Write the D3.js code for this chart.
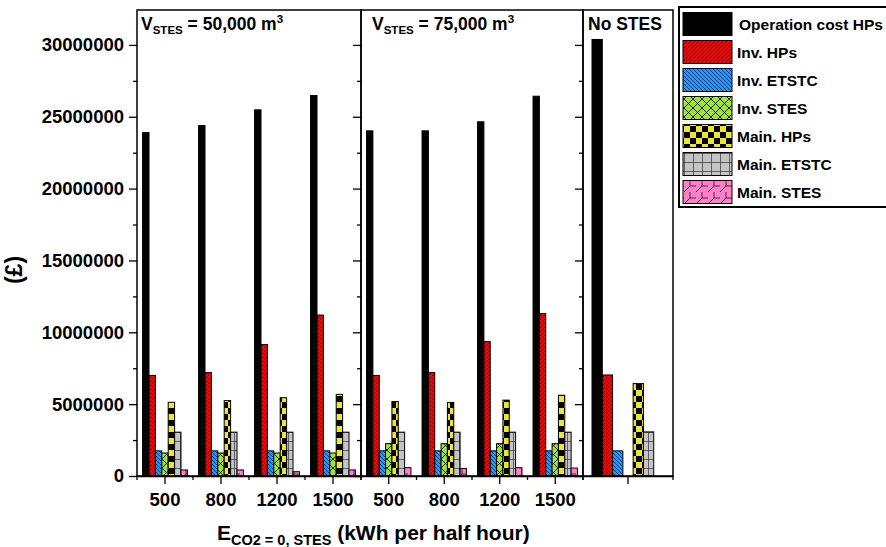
<!DOCTYPE html>
<html>
<head>
<meta charset="utf-8">
<script src="https://cdn.jsdelivr.net/npm/d3@7"></script>
<style>
  body { margin: 0; background: #fff; }
  text { font-family: "Liberation Sans", Arial, sans-serif; font-weight: bold; fill: #000; }
</style>
</head>
<body>
<svg id="chart" width="886" height="547"></svg>
<script>
// ---- data ----
const categories = ['500', '800', '1200', '1500'];
const seriesNames = ['Operation cost HPs', 'Inv. HPs', 'Inv. ETSTC', 'Inv. STES', 'Main. HPs', 'Main. ETSTC', 'Main. STES'];

// V_STES = 50,000 m3
const opCost50    = [23.9e6, 24.39e6, 25.48e6, 26.48e6];
const invHP50     = [7.0e6, 7.2e6, 9.15e6, 11.2e6];
const invETSTC50  = [1.75e6, 1.75e6, 1.75e6, 1.75e6];
const invSTES50   = [1.6e6, 1.6e6, 1.6e6, 1.6e6];
const mainHP50    = [5.13e6, 5.25e6, 5.45e6, 5.68e6];
const mainETSTC50 = [3.05e6, 3.05e6, 3.05e6, 3.05e6];
const mainSTES50  = [0.42e6, 0.42e6, 0.3e6, 0.42e6];

// V_STES = 75,000 m3
const opCost75    = [24.02e6, 24.02e6, 24.65e6, 26.43e6];
const invHP75     = [7.0e6, 7.2e6, 9.35e6, 11.3e6];
const invETSTC75  = [1.75e6, 1.75e6, 1.75e6, 1.75e6];
const invSTES75   = [2.25e6, 2.25e6, 2.25e6, 2.25e6];
const mainHP75    = [5.18e6, 5.12e6, 5.28e6, 5.62e6];
const mainETSTC75 = [3.05e6, 3.05e6, 3.05e6, 3.05e6];
const mainSTES75  = [0.58e6, 0.52e6, 0.58e6, 0.55e6];

// No STES (one group, same series order)
const noStes = [30.38e6, 7.03e6, 1.75e6, 0, 6.43e6, 3.07e6, 0];

const yMajor = d3.range(0, 30000001, 5000000);
const yMinor = d3.range(2500000, 32500000, 5000000);

// ---- layout ----
const svg = d3.select('#chart');
const plotTop = 10, plotBot = 476;
const y = d3.scaleLinear().domain([0, 32.43e6]).range([plotBot, plotTop]);

const panels = [
  { x0: 137, x1: 361, cats: categories, rows: [opCost50, invHP50, invETSTC50, invSTES50, mainHP50, mainETSTC50, mainSTES50], title: '50,000', tx: 141, rightTicks: true },
  { x0: 361, x1: 583, cats: categories, rows: [opCost75, invHP75, invETSTC75, invSTES75, mainHP75, mainETSTC75, mainSTES75], title: '75,000', tx: 372, rightTicks: true },
  { x0: 583, x1: 673, cats: [''], rows: noStes.map(v => [v]), title: null, tx: 588, rightTicks: false }
];

// ---- patterns ----
const defs = svg.append('defs');
function pat(id, w, h, bg) {
  const p = defs.append('pattern').attr('id', id).attr('patternUnits', 'userSpaceOnUse')
    .attr('width', w).attr('height', h);
  p.append('rect').attr('width', w).attr('height', h).attr('fill', bg);
  return p;
}
pat('pRed', 4, 4, '#ff0000').append('path')
  .attr('d', 'M-1,1 L1,-1 M0,4 L4,0 M3,5 L5,3').attr('stroke', '#000').attr('stroke-width', 0.7);
pat('pBlue', 4, 4, '#1e9bff').append('path')
  .attr('d', 'M-1,3 L1,5 M0,0 L4,4 M3,-1 L5,1').attr('stroke', '#000').attr('stroke-width', 0.7);
pat('pGreen', 9, 9, '#a0e040').append('path')
  .attr('d', 'M0,0 L9,9 M9,0 L0,9').attr('stroke', '#000').attr('stroke-width', 0.8);
const pY = pat('pYellow', 12, 12, '#ece43c');
pY.append('rect').attr('width', 6).attr('height', 6).attr('fill', '#000');
pY.append('rect').attr('x', 6).attr('y', 6).attr('width', 6).attr('height', 6).attr('fill', '#000');
pat('pGray', 9, 9, '#c4c4c4').append('path')
  .attr('d', 'M0,0.5 H9 M0.5,0 V9').attr('stroke', '#333').attr('stroke-width', 0.7);
pat('pPink', 12, 12, '#ff80c8').append('path')
  .attr('d', 'M0,12 L6,6 L12,6 M6,6 L6,0').attr('stroke', '#000').attr('stroke-width', 0.7).attr('fill', 'none');

const fills = ['#000', 'url(#pRed)', 'url(#pBlue)', 'url(#pGreen)', 'url(#pYellow)', 'url(#pGray)', 'url(#pPink)'];

// ---- panels ----
panels.forEach(p => {
  const xb = d3.scaleBand().domain(p.cats).range([p.x0, p.x1]).padding(0);
  const bw = xb.bandwidth();
  const xs = d3.scaleBand().domain(d3.range(seriesNames.length)).range([0.1 * bw, 0.9 * bw]).padding(0);

  const g = svg.append('g');
  p.cats.forEach((c, ci) => {
    p.rows.forEach((row, si) => {
      const v = row[ci];
      if (!v) return;
      g.append('rect')
        .attr('x', xb(c) + xs(si))
        .attr('y', y(v))
        .attr('width', xs.bandwidth())
        .attr('height', y(0) - y(v))
        .attr('fill', fills[si])
        .attr('stroke', '#000')
        .attr('stroke-width', 1);
    });
  });

  // frame
  svg.append('rect').attr('x', p.x0).attr('y', plotTop).attr('width', p.x1 - p.x0).attr('height', plotBot - plotTop)
    .attr('fill', 'none').attr('stroke', '#000').attr('stroke-width', 1.5);

  // bottom axis
  const ax = svg.append('g').attr('transform', `translate(0,${plotBot})`)
    .call(d3.axisBottom(xb).tickSize(8).tickSizeOuter(0).tickPadding(9));
  ax.select('.domain').attr('stroke-width', 1.5);
  ax.selectAll('.tick line').attr('stroke-width', 1.3);
  ax.selectAll('text').style('font-size', '18.5px');
  // minor ticks at band edges
  const edges = p.cats.map(c => xb(c)).concat([xb.range()[1]]);
  svg.append('g').selectAll('line').data(edges).join('line')
    .attr('x1', d => d).attr('x2', d => d).attr('y1', plotBot).attr('y2', plotBot + 4)
    .attr('stroke', '#000').attr('stroke-width', 1.3);

  // ticks on the right edge, pointing into the panel
  if (p.rightTicks) {
    const r1 = svg.append('g').attr('transform', `translate(${p.x1},0)`)
      .call(d3.axisLeft(y).tickValues(yMajor).tickSize(8).tickFormat(''));
    r1.select('.domain').remove();
    r1.selectAll('.tick line').attr('stroke-width', 1.3);
    const r2 = svg.append('g').attr('transform', `translate(${p.x1},0)`)
      .call(d3.axisLeft(y).tickValues(yMinor).tickSize(4).tickFormat(''));
    r2.select('.domain').remove();
    r2.selectAll('.tick line').attr('stroke-width', 1.3);
  }

  // titles
  const t = svg.append('text').attr('x', p.tx).attr('y', 30).style('font-size', '17.5px');
  if (p.title) {
    t.append('tspan').text('V');
    t.append('tspan').attr('dy', 4).style('font-size', '11.5px').text('STES');
    t.append('tspan').attr('dy', -4).text(` = ${p.title} m`);
    t.append('tspan').attr('dy', -7).style('font-size', '11.5px').text('3');
  } else {
    t.text('No STES');
  }
});

// ---- left y axis ----
const yl = svg.append('g').attr('transform', 'translate(137,0)')
  .call(d3.axisLeft(y).tickValues(yMajor).tickSize(8).tickPadding(5).tickFormat(d3.format('d')));
yl.select('.domain').remove();
yl.selectAll('.tick line').attr('stroke-width', 1.3);
yl.selectAll('text').style('font-size', '18.5px');
const ylm = svg.append('g').attr('transform', 'translate(137,0)')
  .call(d3.axisLeft(y).tickValues(yMinor).tickSize(4).tickFormat(''));
ylm.select('.domain').remove();
ylm.selectAll('.tick line').attr('stroke-width', 1.3);

// axis titles
svg.append('text').attr('transform', 'translate(22,270) rotate(-90)').attr('text-anchor', 'middle')
  .style('font-size', '23px').text('(£)');
const xt = svg.append('text').attr('x', 217).attr('y', 540).style('font-size', '21px');
xt.append('tspan').text('E');
xt.append('tspan').attr('dy', 5).style('font-size', '14.5px').text('CO2 = 0, STES');
xt.append('tspan').attr('dy', -5).text(' (kWh per half hour)');

// ---- legend ----
const lg = svg.append('g');
lg.append('rect').attr('x', 679).attr('y', 7).attr('width', 220).attr('height', 200)
  .attr('fill', '#fff').attr('stroke', '#000').attr('stroke-width', 2);
seriesNames.forEach((name, i) => {
  const cy = 24 + i * 28;
  lg.append('rect').attr('x', 683).attr('y', cy - 11.5).attr('width', 49).attr('height', 23)
    .attr('fill', fills[i]).attr('stroke', '#000').attr('stroke-width', 1);
  lg.append('text').attr('x', i === 0 ? 739 : 737).attr('y', cy).attr('dy', '0.36em')
    .style('font-size', '15.5px').text(name);
});
</script>
</body>
</html>
